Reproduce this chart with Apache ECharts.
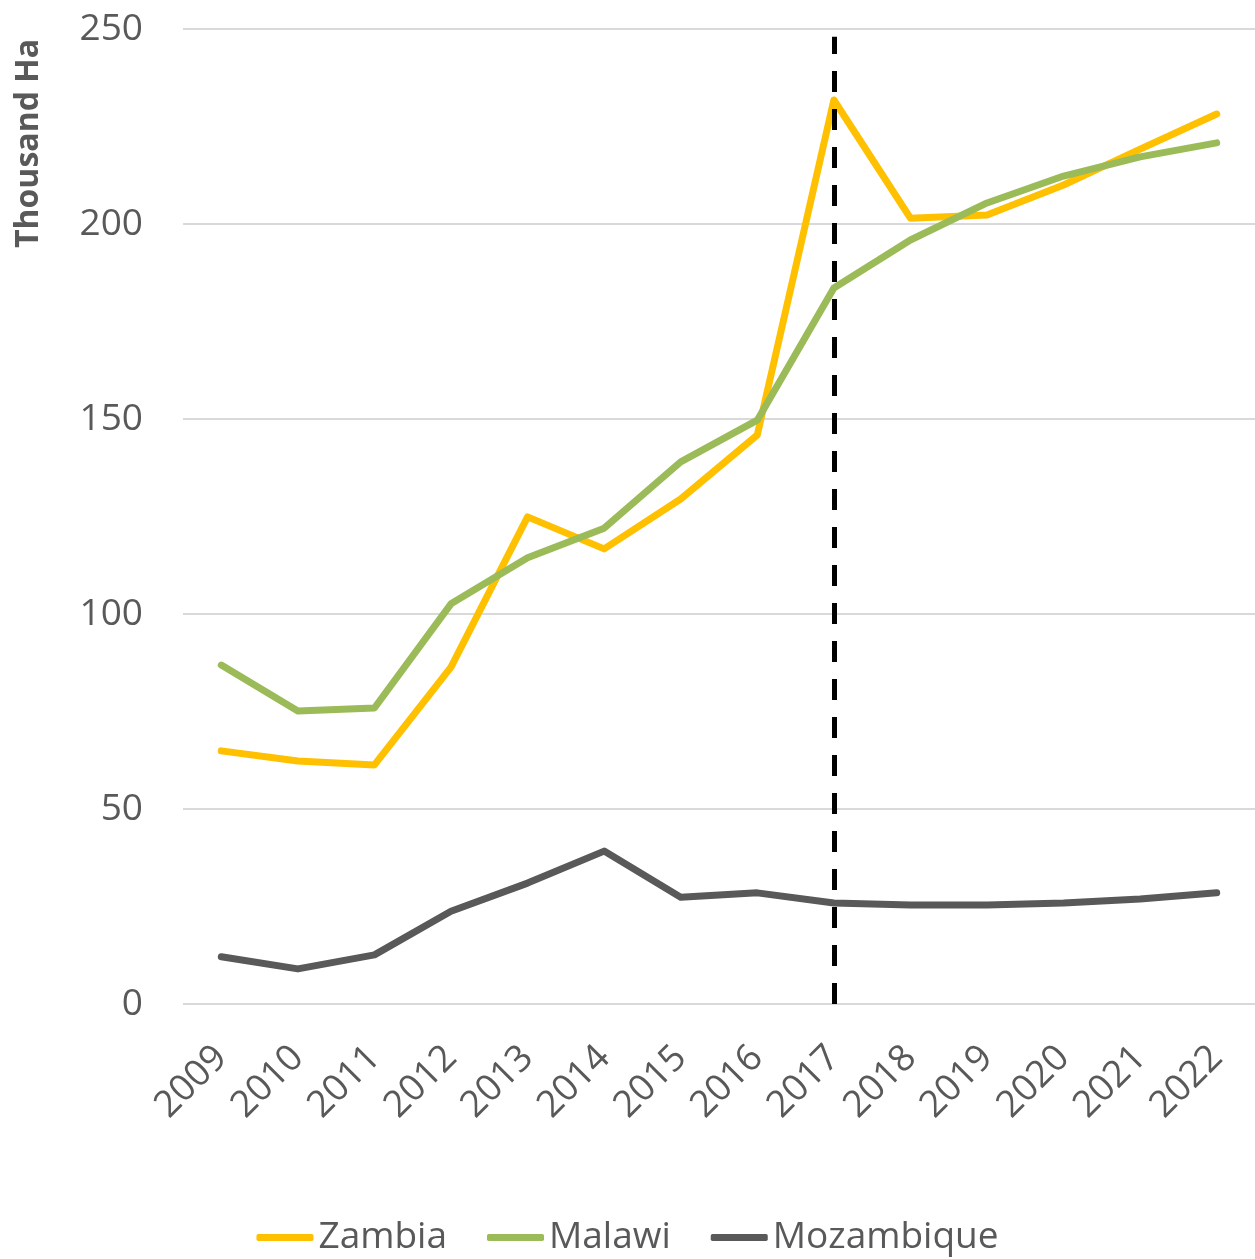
<!DOCTYPE html>
<html>
<head>
<meta charset="utf-8">
<script src="https://cdn.jsdelivr.net/npm/echarts@6/dist/echarts.min.js"></script>
<style>
  html, body { margin: 0; padding: 0; background: #fff; }
  #main { width: 1255px; height: 1259px; }
</style>
</head>
<body>
<div id="main"></div>
<script>
// data (thousand ha)
var years = ["2009", "2010", "2011", "2012", "2013", "2014", "2015", "2016", "2017", "2018", "2019", "2020", "2021", "2022"];
var zambia = [64.9, 62.3, 61.3, 86.4, 124.9, 116.7, 129.5, 145.9, 231.8, 201.5, 202.3, 210, 219.2, 228.2];
var malawi = [86.9, 75.1, 75.9, 102.6, 114.4, 122, 139, 149.7, 183.6, 195.9, 205.4, 212.3, 217.2, 220.8];
var mozambique = [12.1, 9, 12.6, 23.8, 31, 39.2, 27.4, 28.5, 25.9, 25.4, 25.4, 25.9, 26.9, 28.5];
var yTicks = [0, 50, 100, 150, 200, 250];
var markYear = "2017";

var font = "'Open Sans', sans-serif";
var grey = "#595959";

var myChart = echarts.init(document.getElementById("main"));

function line(name, data, color) {
  return {
    name: name,
    type: "line",
    data: data,
    symbol: "none",
    lineStyle: { color: color, width: 7, cap: "round", join: "round" },
    itemStyle: { color: color },
    z: 3
  };
}

var series = [
  line("Zambia", zambia, "#FFC000"),
  line("Malawi", malawi, "#9BBB59"),
  line("Mozambique", mozambique, "#595959")
];
// dashed marker at 2017
series[0].markLine = {
  silent: true,
  symbol: "none",
  label: { show: false },
  lineStyle: { color: "#000", width: 5, type: [21, 17] },
  data: [[{ coord: [markYear, 0] }, { coord: [markYear, 248] }]]
};

var option = {
  animation: false,
  textStyle: { fontFamily: font },
  grid: { left: 183, right: 0, top: 29, bottom: 255 },
  legend: {
    bottom: -2,
    left: "center",
    icon: "roundRect",
    itemWidth: 57,
    itemHeight: 7,
    itemGap: 40,
    textStyle: { fontSize: 37, color: grey, fontFamily: font },
    data: ["Zambia", "Malawi", "Mozambique"]
  },
  xAxis: {
    type: "category",
    data: years,
    boundaryGap: true,
    axisLine: { show: false },
    axisTick: { show: false },
    axisLabel: { rotate: 45, fontSize: 37, color: grey, margin: 48, interval: 0 }
  },
  yAxis: {
    type: "value",
    min: yTicks[0],
    max: yTicks[yTicks.length - 1],
    interval: 50,
    axisLine: { show: false },
    axisTick: { show: false },
    axisLabel: { fontSize: 37, color: grey, margin: 40 },
    splitLine: { lineStyle: { color: "#d9d9d9", width: 2 } }
  },
  graphic: [
    {
      type: "text",
      x: 13,
      y: 248,
      rotation: Math.PI / 2,
      style: {
        text: "Thousand Ha",
        font: "bold 32px " + font,
        fill: grey,
        textAlign: "left",
        textVerticalAlign: "top"
      }
    }
  ],
  series: series
};

myChart.setOption(option);
</script>
</body>
</html>
